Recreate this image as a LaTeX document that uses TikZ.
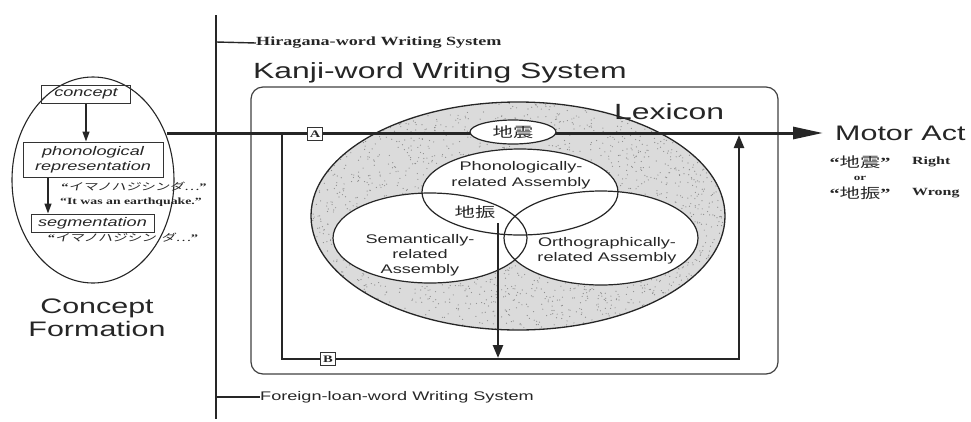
\documentclass[tikz,border=0pt]{standalone}
\usepackage{fontspec}
\setmainfont{Liberation Sans}[FakeStretch=1.45]
\newfontfamily\serifw{Liberation Serif}[FakeStretch=1.45]
\newfontfamily\jp{Noto Sans CJK JP}[FakeStretch=1.45]
\newfontfamily\jpsl{Noto Sans CJK JP}[FakeStretch=1.45,FakeSlant=0.2]
\usetikzlibrary{shapes.geometric,arrows.meta}
\newcommand\setfs[1]{\fontsize{#1}{\dimexpr #1pt*6/5\relax}\selectfont}

\begin{document}
\begin{tikzpicture}[x=1pt,y=-1pt,
  ink/.style={black!85},
  txt/.style={inner sep=0pt,text=black!85},
  big/.style={txt,font=\setfs{22}},
  lab/.style={txt,font=\setfs{12.5},align=center},
  ser/.style={txt,font=\serifw\bfseries\setfs{12.5}},
  stepbox/.style={draw=black!80,line width=1pt,inner sep=0pt,
    font=\itshape\setfs{12.5},text=black!85,align=center},
  tag/.style={draw=black!80,fill=white,line width=0.9pt,inner sep=0pt,
    minimum width=15pt,minimum height=13pt,font=\serifw\bfseries\setfs{10},text=black!85},
  thin/.style={draw=black!85,line width=1.3pt,-{Triangle[length=10pt,width=7pt]}},
  route/.style={draw=black!85,line width=2.4pt},
  venn/.style={ellipse,draw=black!85,line width=1.2pt,inner sep=0pt}
]
\useasboundingbox (0,0) rectangle (971,421);

% ---------- concept formation ----------
\node[ellipse,draw=black!85,line width=1.1pt,minimum width=162pt,minimum height=206pt] (cf) at (93,180) {};
\node[stepbox,minimum width=89pt,minimum height=18pt] (concept) at (86,94) {concept};
\node[stepbox,minimum width=140pt,minimum height=35pt] (phon) at (93,159.5) {phonological\\representation};
\node[stepbox,minimum width=123pt,minimum height=18pt] (seg) at (92.5,223) {segmentation};
\coordinate (xa) at (48,0);
\draw[thin] (concept.south) -- (concept.south |- phon.north);
\draw[thin] (phon.south -| xa) -- (seg.north -| xa);
\node[txt,font=\setfs{10}] (kana1) at (134,187) {{\serifw\bfseries “}{\jpsl イマノハジシンダ…}{\serifw\bfseries ”}};
\node[txt,font=\serifw\bfseries\setfs{9.5}] (eng) at (131,202) {“It was an earthquake.”};
\node[txt,font=\setfs{10}] (kana2) at (123,238) {{\serifw\bfseries “}{\jpsl イマノハジシン\hspace{5pt}ダ…}{\serifw\bfseries ”}};
\node[big,font=\setfs{21},align=center] (cfl) at (97,318) {Concept\\[-2pt]Formation};

% ---------- writing systems ----------
\coordinate (vt) at (216,15);
\coordinate (vb) at (216,419);
\draw[ink,line width=2.3pt] (vt) -- (vb);
\node[ser,anchor=west] (hira) at (256,43) {Hiragana-word Writing System};
\draw[ink,line width=1.4pt] (216,42) -- (hira.west);
\node[lab,anchor=west] (loan) at (260,397) {Foreign-loan-word Writing System};
\draw[ink,line width=1.4pt] (216,397) -- (loan.west);
\node[big,anchor=west] (kanji) at (253,73) {Kanji-word Writing System};
\node[draw=black!75,line width=1.2pt,rounded corners=12pt,minimum width=527pt,minimum height=287pt] (kbox) at (514.5,230.5) {};

% ---------- lexicon ----------
\node[ellipse,fill=black!14,minimum width=414pt,minimum height=228pt,inner sep=0pt] (lex) at (518,216) {};
\begin{scope}
  \clip (518,216) ellipse [x radius=207, y radius=114];
  \pgfmathsetseed{11}
  \foreach \k in {1,...,2600}{
    \fill[black!45] ({518+207*rand},{216+114*rand}) circle (0.6);
  }
\end{scope}
\draw[black!85,line width=1.3pt] (lex.center) ellipse [x radius=207, y radius=114];
\node[big,anchor=west] (lexl) at (614,112) {Lexicon};

\fill[white] (520,192) ellipse [x radius=98, y radius=43];
\fill[white] (430,238) ellipse [x radius=97, y radius=45];
\fill[white] (601,238) ellipse [x radius=97, y radius=47];
\node[venn,minimum width=196pt,minimum height=86pt] (pho) at (520,192) {};
\node[venn,minimum width=194pt,minimum height=90pt] (sem) at (430,238) {};
\node[venn,minimum width=194pt,minimum height=94pt] (ort) at (601,238) {};
\node[lab] (phol) at (521,175) {Phonologically-\\[1pt]related Assembly};
\node[lab] (seml) at (420,255) {Semantically-\\related\\Assembly};
\node[lab] (ortl) at (607,250.5) {Orthographically-\\related Assembly};
\node[txt,font=\jp\setfs{14}] (shin) at (475,212) {地振};

% ---------- main pathway ----------
\coordinate (start) at (167,133);
\node[big,font=\setfs{21},anchor=west] (motor) at (835,133) {Motor Act};
\draw[draw=black!85,line width=3pt,shorten >=12pt,-{Triangle[length=30pt,width=12pt]}] (start) -- (motor);
\node[ellipse,draw=black!85,fill=white,line width=1.2pt,minimum width=86pt,minimum height=24pt,inner sep=0pt,
  font=\jp\setfs{14},text=black!85] (quake) at (513,132) {地震};

% route through the lexicon and back out
\coordinate (jl) at (282,133);
\coordinate (bl) at (282,359);
\coordinate (br) at (739,359);
\coordinate (jr) at (739,135);
\draw[route,-{Triangle[length=13pt,width=10pt]}] (jl) -- (bl) -- (br) -- (jr);
\coordinate (dtop) at (498,223);
\coordinate (dbot) at (498,358);
\draw[route,-{Triangle[length=13pt,width=10pt]}] (dtop) -- (dbot);
\node[tag] (ta) at (315,134) {A};
\node[tag] (tb) at (328,359) {B};

% ---------- output ----------
\node[txt,font=\setfs{14}] (w1) at (860,162) {{\serifw\bfseries “}{\jp 地震}{\serifw\bfseries ”}};
\node[ser,font=\serifw\bfseries\setfs{11},anchor=west] (right) at (912,162) {Right};
\node[ser,font=\serifw\bfseries\setfs{9}] (or) at (860,178) {or};
\node[txt,font=\setfs{14}] (w2) at (860,193) {{\serifw\bfseries “}{\jp 地振}{\serifw\bfseries ”}};
\node[ser,font=\serifw\bfseries\setfs{11},anchor=west] (wrong) at (912,193) {Wrong};
\end{tikzpicture}
\end{document}
